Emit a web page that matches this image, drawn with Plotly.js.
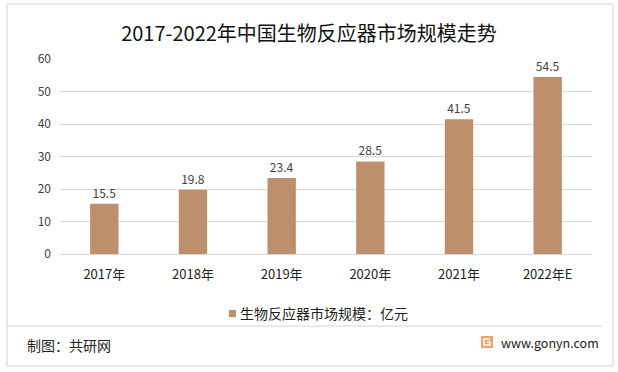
<!DOCTYPE html>
<html>
<head>
<meta charset="utf-8">
<script src="https://cdn.plot.ly/plotly-3.0.1.min.js"></script>
<style>html,body{margin:0;padding:0;background:#fff;}#chart{width:618px;height:372px;}</style>
</head>
<body>
<div id="chart"></div>
<script>
const categories = ["2017年", "2018年", "2019年", "2020年", "2021年", "2022年E"];
const marketSize = [15.5, 19.8, 23.4, 28.5, 41.5, 54.5];
const seriesName = "生物反应器市场规模：亿元";
const yTicks = [0, 10, 20, 30, 40, 50, 60];
const barColor = "#BD8F6C";

const W = 618, H = 372;
const M = {l: 60, r: 26, t: 59, b: 118};
const pw = W - M.l - M.r, ph = H - M.t - M.b;
const px = x => (x - M.l) / pw;
const py = y => (H - M.b - y) / ph;

const font = "'Noto Sans CJK SC', 'Noto Sans', sans-serif";

const trace = {
  type: "bar",
  x: categories,
  y: marketSize,
  name: seriesName,
  marker: {color: barColor},
  text: marketSize.map(v => v.toFixed(1)),
  textposition: "outside",
  cliponaxis: false,
  textfont: {family: font, size: 12, color: "#404040"},
  hoverinfo: "skip",
  showlegend: false
};

const layout = {
  width: W, height: H,
  margin: M,
  paper_bgcolor: "#ffffff",
  plot_bgcolor: "#ffffff",
  showlegend: false,
  bargap: 0.68,
  font: {family: font, color: "#333"},
  title: {
    text: "2017-2022年中国生物反应器市场规模走势",
    font: {family: font, size: 20, color: "#111"},
    x: 0.5, xref: "container", xanchor: "center",
    y: 1 - 34 / H, yref: "container", yanchor: "middle"
  },
  xaxis: {
    type: "category",
    showgrid: false,
    showline: true,
    linecolor: "#d9d9d9",
    linewidth: 1,
    ticks: "",
    tickfont: {family: font, size: 13, color: "#222"},
    ticklabelstandoff: 8,
    fixedrange: true
  },
  yaxis: {
    range: [0, 60],
    tickvals: yTicks,
    showgrid: true,
    gridcolor: "#d9d9d9",
    gridwidth: 1,
    zeroline: false,
    showline: false,
    ticks: "",
    tickfont: {family: font, size: 12, color: "#404040"},
    ticklabelstandoff: 8,
    fixedrange: true
  },
  shapes: [
    {type: "rect", xref: "paper", yref: "paper", x0: px(7), x1: px(613), y0: py(4), y1: py(366),
     line: {color: "#d4d4d4", width: 1}, fillcolor: "rgba(0,0,0,0)", layer: "below"},
    {type: "line", xref: "paper", yref: "paper", x0: px(7), x1: px(602), y0: py(326), y1: py(326),
     line: {color: "#d4d4d4", width: 1}},
    // legend swatch
    {type: "rect", xref: "paper", yref: "paper", x0: px(229), x1: px(236), y0: py(310), y1: py(317),
     line: {width: 0}, fillcolor: barColor},
    // logo
    {type: "rect", xref: "paper", yref: "paper", x0: px(481), x1: px(493), y0: py(336), y1: py(348),
     line: {width: 0}, fillcolor: "#F2A468"},
    {type: "path", xref: "paper", yref: "paper",
     path: `M ${px(490)} ${py(339)} L ${px(484)} ${py(339)} L ${px(484)} ${py(345)} L ${px(490)} ${py(345)} L ${px(490)} ${py(342)} L ${px(487)} ${py(342)}`,
     line: {color: "#ffffff", width: 1.5}}
  ],
  annotations: [
    {text: seriesName, xref: "paper", yref: "paper", x: px(238), y: py(313),
     xanchor: "left", yanchor: "middle", showarrow: false,
     font: {family: font, size: 14, color: "#222"}},
    {text: "制图：共研网", xref: "paper", yref: "paper", x: px(25), y: py(345),
     xanchor: "left", yanchor: "middle", showarrow: false,
     font: {family: font, size: 14, color: "#222"}},
    {text: "www.gonyn.com", xref: "paper", yref: "paper", x: px(499), y: py(342),
     xanchor: "left", yanchor: "middle", showarrow: false,
     font: {family: font, size: 12.5, color: "#222"}}
  ]
};

Plotly.newPlot("chart", [trace], layout, {displayModeBar: false, staticPlot: true});
</script>
</body>
</html>
